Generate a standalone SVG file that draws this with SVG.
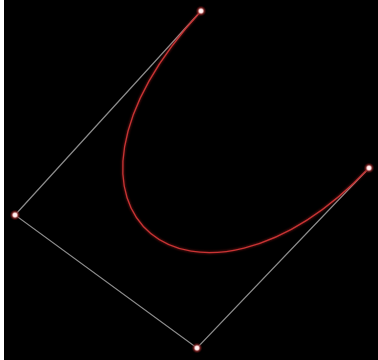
<svg xmlns="http://www.w3.org/2000/svg" width="378" height="360" viewBox="0 0 378 360">
<defs>
<radialGradient id="glow">
<stop offset="0" stop-color="#ffffff"/>
<stop offset="0.35" stop-color="#ffe0e0"/>
<stop offset="0.6" stop-color="#a03030" stop-opacity="0.7"/>
<stop offset="1" stop-color="#500000" stop-opacity="0"/>
</radialGradient>
<filter id="blur" x="-20%" y="-20%" width="140%" height="140%"><feGaussianBlur stdDeviation="0.8"/></filter>
</defs>
<style>
.poly{stroke:#8c8c8c;stroke-width:1.2;fill:none}
.curveGlow{stroke:#ff3030;stroke-width:2.6;fill:none;opacity:0.3}
.curve{stroke:#c83434;stroke-width:1.3;fill:none}
.pt{fill:url(#glow)}
</style>
<rect width="378" height="360" fill="#000"/>
<rect x="0" y="0" width="4" height="360" fill="#fff"/>
<g id="connectors">
<polyline class="poly" points="201,11 15,215 197,348 369,168"/>
<path class="curveGlow" filter="url(#blur)" d="M201,11 C15,215 197,348 369,168"/>
<path class="curve" d="M201,11 C15,215 197,348 369,168"/>
</g>
<g id="p0"><circle class="pt" cx="201" cy="11" r="5.5"/></g>
<g id="p1"><circle class="pt" cx="15" cy="215" r="5.5"/></g>
<g id="p2"><circle class="pt" cx="197" cy="348" r="5.5"/></g>
<g id="p3"><circle class="pt" cx="369" cy="168" r="5.5"/></g>
</svg>
